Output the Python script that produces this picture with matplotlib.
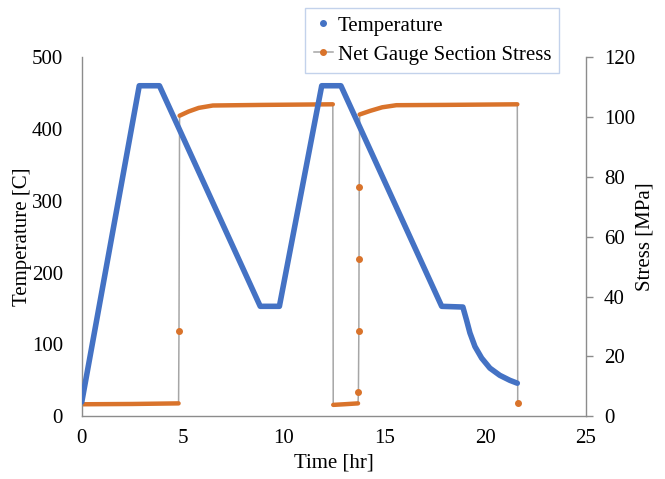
import matplotlib
matplotlib.use('Agg')
import matplotlib.pyplot as plt
from matplotlib.lines import Line2D

plt.rcParams['font.family'] = ['Liberation Serif', 'DejaVu Serif']

# Temperature profile (time in hr, temperature in C)
temp_time = [0, 2.85, 3.85, 8.85, 9.8, 11.9, 12.85, 17.85, 18.9,
             19.08, 19.25, 19.5, 19.83, 20.24, 20.73, 21.23, 21.6]
temp_vals = [20, 460, 460, 153, 153, 460, 460, 153, 152,
             134, 116, 97, 81, 67, 57, 50, 46]

# Net gauge section stress (MPa)
stress_time = [0, 2.5, 4.8, 4.82, 4.85, 5.3, 5.8, 6.5, 9, 12.45,
               12.47, 13.0, 13.7, 13.72, 13.74, 13.75, 13.76, 13.78,
               14.3, 14.9, 15.6, 18, 21.6, 21.62]
stress_vals = [4.0, 4.1, 4.3, 28.4, 100.4, 101.8, 103.0, 103.8, 104.0, 104.2,
               3.8, 4.0, 4.3, 8.0, 28.4, 52.5, 76.6, 100.8,
               102.0, 103.2, 103.9, 104.0, 104.2, 4.3]

# stretches where the logger samples densely (drawn as solid orange band)
dense_runs = [(0, 3), (4, 10), (10, 13), (17, 23)]

blue = '#4472c4'
orange = '#d9732b'
grey = '#a6a6a6'

fig, ax = plt.subplots(figsize=(6.65, 4.79), dpi=100)
fig.subplots_adjust(left=0.123, right=0.881, bottom=0.131, top=0.881)
ax2 = ax.twinx()

ax.plot(temp_time, temp_vals, color=blue, lw=4.0, solid_capstyle='round',
        solid_joinstyle='round', zorder=3)

ax2.plot(stress_time, stress_vals, color=grey, lw=1.1, zorder=1)
in_run = set()
for a, b in dense_runs:
    in_run.update(range(a, b))
    ax2.plot(stress_time[a:b], stress_vals[a:b], color=orange, lw=3.2,
             solid_capstyle='round', zorder=2)
sparse = [i for i in range(len(stress_time)) if i not in in_run]
ax2.plot([stress_time[i] for i in sparse], [stress_vals[i] for i in sparse],
         'o', color=orange, ms=4, zorder=2)

# temperature on top of stress
ax.set_zorder(ax2.get_zorder() + 1)
ax.patch.set_visible(False)

ax.set_xlim(0, 25)
ax.set_ylim(0, 500)
ax2.set_ylim(0, 120)
ax.set_xticks(range(0, 26, 5))
ax.set_yticks(range(0, 501, 100))
ax2.set_yticks(range(0, 121, 20))

for a in (ax, ax2):
    a.spines['top'].set_visible(False)
    for s in a.spines.values():
        s.set_color('#8c8c8c')
        s.set_linewidth(1)
ax.spines['right'].set_visible(False)
ax2.spines['left'].set_visible(False)
ax2.spines['bottom'].set_visible(False)

ax.tick_params(axis='both', length=0, labelsize=15)
ax.tick_params(axis='y', pad=13.5)
ax.tick_params(axis='x', pad=9)
ax2.tick_params(axis='y', length=5, width=1, color='#8c8c8c', labelsize=15, pad=8)

ax.set_xlabel('Time [hr]', fontsize=15, labelpad=4)
ax.set_ylabel('Temperature [C]', fontsize=15, labelpad=0)
ax2.set_ylabel('Stress [MPa]', fontsize=15, labelpad=0)

handles = [
    Line2D([], [], ls='none', marker='o', color=blue, ms=4),
    Line2D([], [], color=grey, lw=1.1, marker='o', mfc=orange, mec=orange, ms=4),
]
leg = fig.legend(handles, ['Temperature', 'Net Gauge Section Stress'],
                 loc='upper left', bbox_to_anchor=(0.459, 0.984),
                 fontsize=15, frameon=True, fancybox=False,
                 handlelength=0.95, handletextpad=0.2, borderpad=0.4,
                 labelspacing=0.45, borderaxespad=0)
leg.get_frame().set_edgecolor('#b4c7e7')
leg.get_frame().set_linewidth(1)

plt.savefig('out.png', dpi=100)
